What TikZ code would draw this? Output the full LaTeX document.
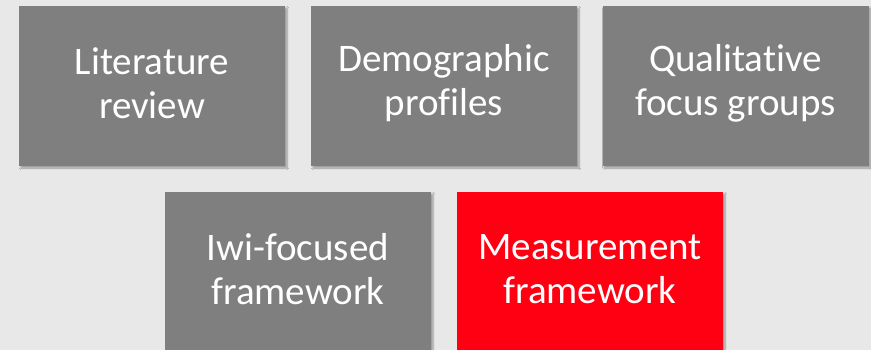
\documentclass[tikz,border=0pt]{standalone}
\usepackage{fontspec}
\setmainfont{Carlito}[Ligatures=NoCommon]
\usetikzlibrary{shadows.blur,backgrounds}
\definecolor{boxgray}{HTML}{7F7F7F}
\definecolor{boxred}{HTML}{FF0013}
\definecolor{pagegray}{HTML}{E8E8E8}
\tikzset{
	stepbox/.style={fill=boxgray, minimum width=266pt, minimum height=160pt, inner sep=0pt,
		blur shadow={shadow xshift=2pt, shadow yshift=-2pt, shadow blur steps=6, shadow opacity=35}},
	hotbox/.style={stepbox, fill=boxred},
	steptext/.style={text=white, align=center, inner sep=0pt, font=\fontsize{39}{44}\selectfont}
}
\begin{document}
\begin{tikzpicture}[x=1pt,y=1pt]
		\fill[pagegray] (0,0) rectangle (871,-350);
		\useasboundingbox (0,0) rectangle (871,-350);
		%top row
		\node[stepbox] (litrev) at (152,-86) {};
		\node[stepbox] (demog) at (444,-86) {};
		\node[stepbox] (focus) at (735.5,-86) {};
		%bottom row
		\node[stepbox] (iwi) at (298,-272) {};
		\node[hotbox] (measure) at (590,-272) {};
		%labels, a little above the box centres
		\node[steptext] (litrevtext) at ([yshift=3pt]litrev.center) {Literature\\review};
		\node[steptext] (demogtext) at ([yshift=3pt]demog.center) {Demographic\\profiles};
		\node[steptext] (focustext) at ([yshift=3pt]focus.center) {Qualitative\\focus groups};
		\node[steptext] (iwitext) at ([yshift=3pt]iwi.center) {Iwi-focused\\framework};
		\node[steptext] (measuretext) at ([yshift=3pt]measure.center) {Measurement\\framework};
		\end{tikzpicture}
\end{document}
